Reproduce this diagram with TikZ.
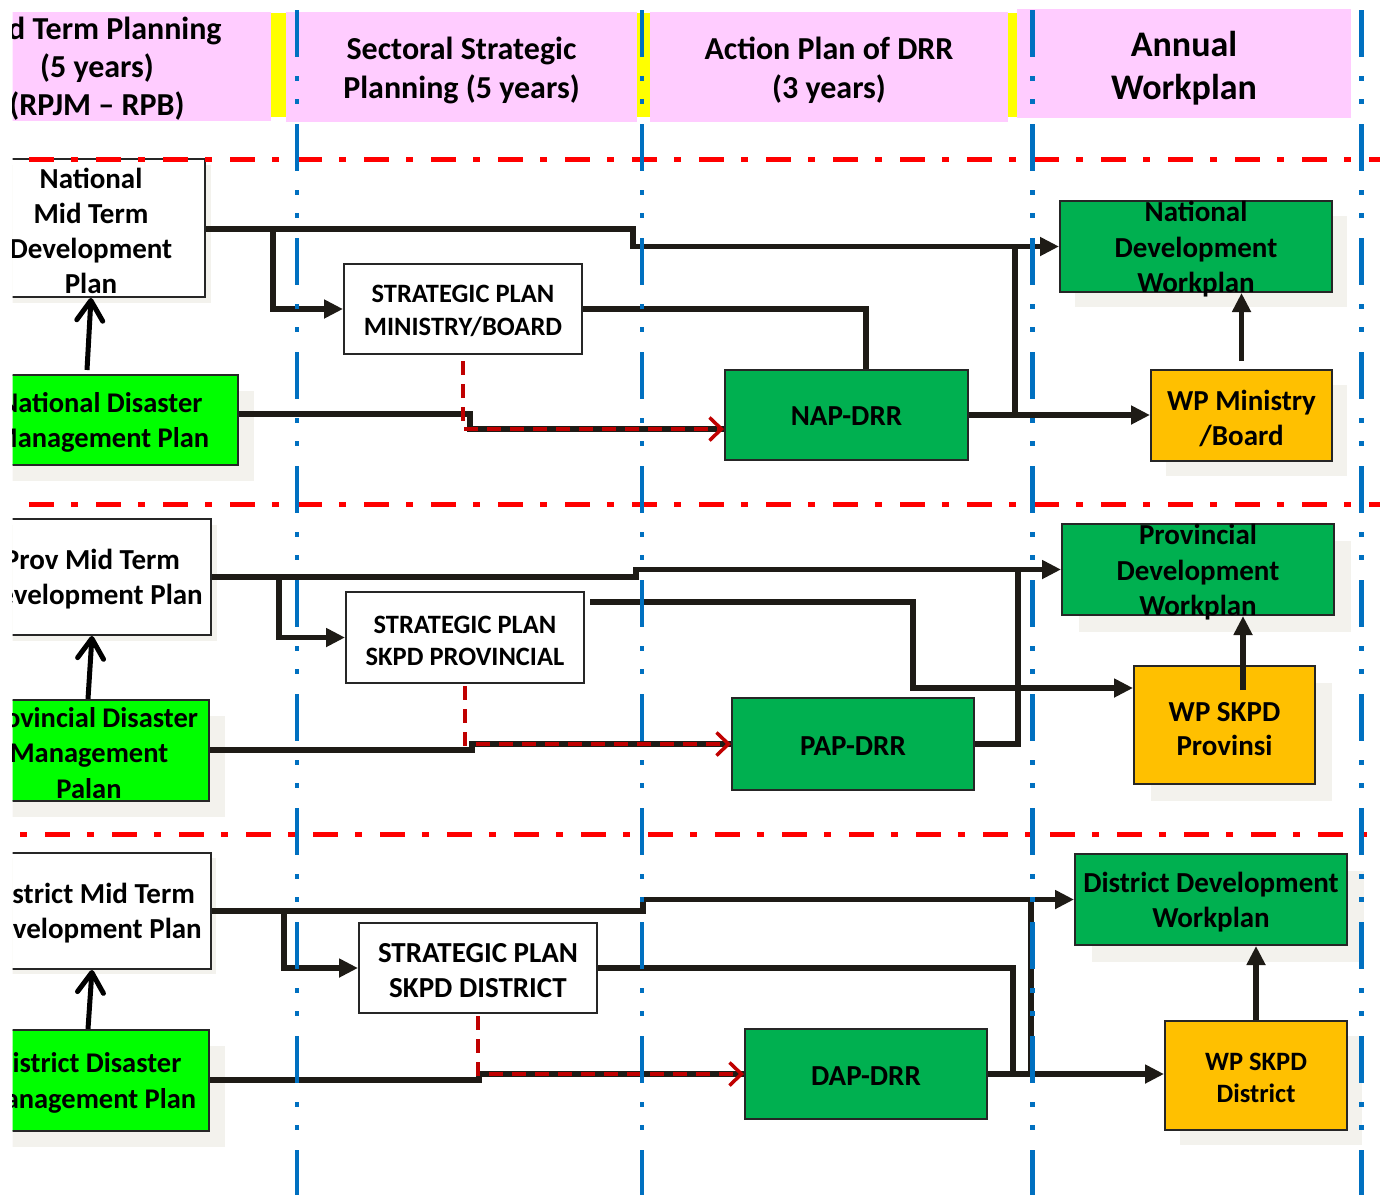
\documentclass[tikz,border=0pt]{standalone}
\usepackage{fontspec}
\setmainfont{Carlito}
\usetikzlibrary{arrows.meta,calc,shadows}
\definecolor{pinkh}{HTML}{FFCCFF}
\definecolor{yel}{HTML}{FFFF00}
\definecolor{brightg}{HTML}{00FF00}
\definecolor{darkg}{HTML}{00B050}
\definecolor{orng}{HTML}{FFC000}
\definecolor{bluel}{HTML}{0070C0}
\definecolor{redl}{HTML}{FF0000}
\definecolor{redd}{HTML}{C00000}
\definecolor{linec}{HTML}{1E1B16}
\definecolor{boxline}{HTML}{262626}
\definecolor{shad}{HTML}{F3F2ED}
\newcommand\myfs[2]{\fontsize{#1}{#2}\selectfont\bfseries}
\begin{document}
\begin{tikzpicture}[x=1pt,y=-1pt,
  box/.style={draw=boxline,line width=2pt,inner sep=0pt,rectangle},
  hdr/.style={fill=pinkh,inner sep=0pt,rectangle},
  txt/.style={inner sep=0pt,align=center},
  shd/.style={drop shadow={shadow xshift=#1,shadow yshift=-#1,fill=shad,opacity=1,draw=none}},
  conn/.style={draw=linec,line width=5.5pt},
  tri/.style={-{Triangle[length=19pt,width=18pt]}},
  reddash/.style={draw=redd,line width=3.5pt,dash pattern=on 14pt off 9pt},
  redtip/.style={-{Straight Barb[length=12pt,width=23pt,line width=3.5pt]}},
  upbarb/.style={draw=black,line width=5pt,-{Straight Barb[length=20pt,width=26pt,line width=5pt,round]}},
  reddiv/.style={draw=redl,line width=5pt,dash pattern=on 25pt off 17pt on 7pt off 18pt},
  bluediv/.style={draw=bluel,line width=4.5pt,dash pattern=on 47pt off 19pt on 5pt off 18pt on 5pt off 20pt}
]
\useasboundingbox (0,0) rectangle (1380,1195);
\begin{scope}
\clip (12.5,0) rectangle (1380,1195);

% ---------- header ----------
\node[hdr,minimum width=300pt,minimum height=109pt] (h1) at (121,66.5) {};
\node[txt,font=\myfs{32}{38}] (h1t) at (97,69) {Mid Term Planning\\(5 years)\\(RPJM – RPB)};
\fill[yel] (271,13) rectangle (286,117);
\node[hdr,minimum width=351pt,minimum height=110pt] (h2) at (461.5,67) {};
\node[txt,font=\myfs{32}{39}] (h2t) at (461.5,70) {Sectoral Strategic\\Planning (5 years)};
\fill[yel] (637,13) rectangle (650,117);
\node[hdr,minimum width=358pt,minimum height=110pt] (h3) at (829,67) {};
\node[txt,font=\myfs{32}{39}] (h3t) at (829,70) {Action Plan of DRR\\(3 years)};
\fill[yel] (1008,13) rectangle (1017,117);
\node[hdr,minimum width=334pt,minimum height=109pt] (h4) at (1184,63.5) {};
\node[txt,font=\myfs{36}{43}] (h4t) at (1184,68.5) {Annual\\Workplan};

% ---------- row 1 ----------
\node[box,fill=white,minimum width=228pt,minimum height=138pt,shd=6pt] (nmtdp) at (91,228) {};
\node[txt,font=\myfs{29}{35}] (nmtdpt) at (91,231) {National\\Mid Term\\Development\\Plan};
\node[box,fill=brightg,minimum width=274pt,minimum height=90pt,shd=16pt] (ndmp) at (101,420) {};
\node[txt,font=\myfs{28.5}{35}] (ndmpt) at (101,422.5) {National Disaster\\Management Plan};
\node[box,fill=white,minimum width=238pt,minimum height=90pt] (spmb) at (463,309) {};
\node[txt,font=\myfs{26.5}{33}] (spmbt) at (463,311) {STRATEGIC PLAN\\MINISTRY/BOARD};
\node[box,fill=darkg,minimum width=243pt,minimum height=90pt] (nap) at (846.5,415) {};
\node[txt,font=\myfs{29}{35}] (napt) at (846.5,416.5) {NAP-DRR};
\node[box,fill=darkg,minimum width=272pt,minimum height=91pt,shd=15pt] (ndw) at (1196,246.5) {};
\node[txt,font=\myfs{29}{35.5}] (ndwt) at (1196,249.5) {National\\Development\\Workplan};
\node[box,fill=orng,minimum width=181pt,minimum height=91pt,shd=15pt] (wpmb) at (1241.5,415.5) {};
\node[txt,font=\myfs{29}{35}] (wpmbt) at (1241.5,418) {WP Ministry\\/Board};

% ---------- row 2 ----------
\node[box,fill=white,minimum width=238pt,minimum height=116pt,shd=6pt] (pmtdp) at (92,577) {};
\node[txt,font=\myfs{29}{35}] (pmtdpt) at (92,579.5) {Prov Mid Term\\Development Plan};
\node[box,fill=brightg,minimum width=240pt,minimum height=101pt,shd=16pt] (pdmp) at (89,750.5) {};
\node[txt,font=\myfs{28.5}{35.5}] (pdmpt) at (89,753) {Provincial Disaster\\Management\\Palan};
\node[box,fill=white,minimum width=238pt,minimum height=91pt] (spsp) at (465,637.5) {};
\node[txt,font=\myfs{26.5}{32}] (spspt) at (465,640.5) {STRATEGIC PLAN\\SKPD PROVINCIAL};
\node[box,fill=darkg,minimum width=242pt,minimum height=92pt] (pap) at (853,744) {};
\node[txt,font=\myfs{29}{35}] (papt) at (853,746) {PAP-DRR};
\node[box,fill=darkg,minimum width=272pt,minimum height=91pt,shd=17pt] (pdw) at (1198,569.5) {};
\node[txt,font=\myfs{29}{35.5}] (pdwt) at (1198,572.5) {Provincial\\Development\\Workplan};
\node[box,fill=orng,minimum width=181pt,minimum height=118pt,shd=17pt] (wpsp) at (1224.5,725) {};
\node[txt,font=\myfs{29}{34}] (wpspt) at (1224.5,729) {WP SKPD\\Provinsi};

% ---------- row 3 ----------
\node[box,fill=white,minimum width=240pt,minimum height=116pt,shd=5pt] (dmtdp) at (91,911) {};
\node[txt,font=\myfs{29}{35}] (dmtdpt) at (91,913.5) {District Mid Term\\Development Plan};
\node[box,fill=brightg,minimum width=242pt,minimum height=101pt,shd=16pt] (ddmp) at (88,1080.5) {};
\node[txt,font=\myfs{28.5}{36}] (ddmpt) at (88,1083) {District Disaster\\Management Plan};
\node[box,fill=white,minimum width=238pt,minimum height=90pt] (spsd) at (478,968) {};
\node[txt,font=\myfs{29}{35}] (spsdt) at (478,970.5) {STRATEGIC PLAN\\SKPD DISTRICT};
\node[box,fill=darkg,minimum width=242pt,minimum height=90pt] (dap) at (866,1074) {};
\node[txt,font=\myfs{29}{35}] (dapt) at (866,1076) {DAP-DRR};
\node[box,fill=darkg,minimum width=272pt,minimum height=91pt,shd=17pt] (ddw) at (1211,899.5) {};
\node[txt,font=\myfs{29}{35}] (ddwt) at (1211,902.5) {District Development\\Workplan};
\node[box,fill=orng,minimum width=182pt,minimum height=109pt,shd=15pt] (wpsd) at (1256,1075.5) {};
\node[txt,font=\myfs{26.5}{32}] (wpsdt) at (1256,1078) {WP SKPD\\District};

% ---------- connectors row 1 ----------
\coordinate (j1) at (633,238);
\draw[conn,tri] (nmtdp.east |- 0,229) -| (j1) |- (ndw.west);
\coordinate (b1) at (273,229);
\draw[conn,tri] (b1) |- (spmb.west);
\draw[conn] (spmb.east) -| ([xshift=19.5pt]nap.north);
\draw[conn] (ndmp.east |- 0,414) -- (470,414) -- (470,429) -- (nap.west |- 0,429);
\draw[reddash,redtip] ([yshift=-6pt]spmb.south) |- (nap.west |- 0,429);
\draw[conn,tri] (nap.east) -- (wpmb.west |- nap.east);
\coordinate (v1t) at (1015,246);
\coordinate (v1b) at (1015,415);
\draw[conn] (v1b) -- (v1t);
\draw[conn,tri] ([yshift=8pt]wpmb.north) -- (ndw.south -| wpmb.north);
\coordinate (u1) at (87,370);
\draw[upbarb] (u1) -- (nmtdp.south -| 91,0);

% ---------- connectors row 2 ----------
\coordinate (j2) at (636,573);
\draw[conn,tri] (pmtdp.east) -| (j2) |- (pdw.west);
\coordinate (b2) at (279,577);
\draw[conn,tri] (b2) |- (spsp.west);
\draw[conn] (pdmp.east |- 0,750) -- (472,750) -- (472,744) -- (pap.west);
\draw[reddash,redtip] ([yshift=-2pt]spsp.south) |- (pap.west);
\coordinate (s2) at (590,602);
\draw[conn,tri] (s2) -- (913,602) -- (913,688) -- (wpsp.west |- 0,688);
\coordinate (v2t) at (1018,570);
\draw[conn] (pap.east) -| (v2t);
\coordinate (a2) at (1243,690);
\draw[conn,tri] (a2) -- (pdw.south -| a2);
\draw[upbarb] (pdmp.north -| 88,0) -- (pmtdp.south -| 92,0);

% ---------- connectors row 3 ----------
\coordinate (j3) at (643,905);
\draw[conn,tri] (dmtdp.east) -| (j3) |- (ddw.west);
\coordinate (b3) at (284,911);
\draw[conn,tri] (b3) |- (spsd.west);
\draw[conn] (ddmp.east |- 0,1080) -- (479,1080) -- (479,1074) -- (dap.west);
\draw[reddash,redtip] ([yshift=-2pt]spsd.south) |- (dap.west);
\coordinate (m3) at (1013,1075);
\draw[conn] (spsd.east) -| (m3);
\draw[conn,tri] (dap.east) -- (wpsd.west |- dap.east);
\coordinate (v3t) at (1031,900);
\coordinate (v3b) at (1031,1075);
\draw[conn] (v3t) -- (v3b);
\draw[conn,tri] (wpsd.north) -- (ddw.south -| wpsd.north);
\draw[upbarb] (ddmp.north -| 88,0) -- (dmtdp.south -| 92,0);

% ---------- dividers ----------
\draw[reddiv] (29,159.3) -- (1380,159.3);
\draw[reddiv] (29,504.5) -- (1380,504.5);
\draw[reddiv] (-22,834.3) -- (1380,834.3);
\foreach \xx in {297,642,1032.5,1361.5} \draw[bluediv] (\xx,10) -- (\xx,1195);
\end{scope}
\end{tikzpicture}
\end{document}
